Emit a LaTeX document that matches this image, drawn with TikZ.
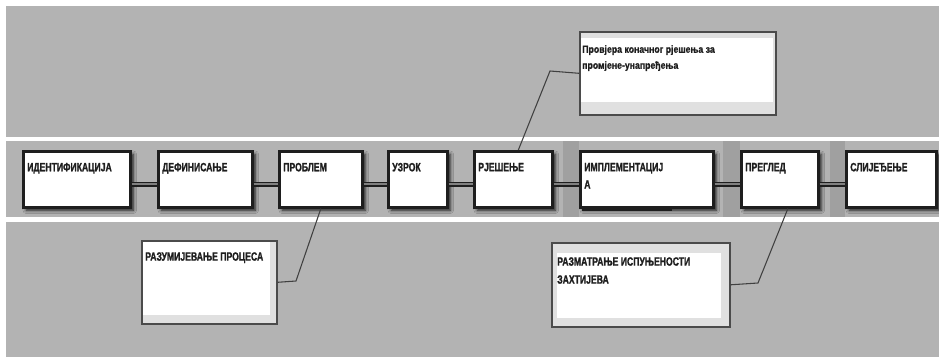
\documentclass[tikz,border=0pt]{standalone}
\usepackage{fontspec}
\usetikzlibrary{shadows.blur}
\newfontfamily\narrowsans[FakeStretch=0.72, BoldFeatures={FakeBold=1.2}]{Liberation Sans}
\newfontfamily\notesans[FakeStretch=0.84, BoldFeatures={FakeBold=0.8}]{Liberation Sans}
\definecolor{panel}{HTML}{B3B3B3}
\definecolor{panelshade}{HTML}{A0A0A0}
\definecolor{ink}{HTML}{1E1E1E}
\definecolor{rim}{HTML}{E0E0E0}

\tikzset{
  stepbox/.style={draw=ink, line width=2pt, fill=white, anchor=north west, inner sep=0pt,
    blur shadow={shadow xshift=2.2pt, shadow yshift=-2.2pt, shadow blur radius=2.5pt, shadow opacity=85}},
  steplabel/.style={anchor=north west, inner sep=0pt, align=left,
    font=\narrowsans\bfseries\fontsize{9}{13}\selectfont, text=ink},
  notebox/.style={draw=ink!80, line width=1.2pt, fill=rim, anchor=north west, inner sep=0pt},
  notelabel/.style={anchor=north west, inner sep=0pt, align=left,
    font=\notesans\bfseries\fontsize{7.8}{12}\selectfont, text=ink},
  capslabel/.style={anchor=north west, inner sep=0pt, align=left,
    font=\narrowsans\bfseries\fontsize{9}{13.5}\selectfont, text=ink},
  link/.style={draw=ink, double=gray, double distance=1.6pt, line width=1.3pt},
  leader/.style={draw=ink!85, line width=0.8pt},
}

% step box: name, x, y, width, height (px units), label
\newcommand\stepat[6]{%
  \node[stepbox, minimum width=#4*0.75pt, minimum height=#5*0.75pt] (#1) at (#2,#3) {};
  \node[steplabel] (#1-t) at ([xshift=3.75pt, yshift=-9.5pt]#1.north west) {#6};
}

\begin{document}
\begin{tikzpicture}[x=0.75pt, y=-0.75pt]
  \useasboundingbox (0,0) rectangle (939,357);
  % backdrop and band
  \fill[white] (0,0) rectangle (939,357);
  \fill[panel] (6,6) rectangle (939,357);
  \fill[panelshade] (563,141) rectangle (579,217);
  \fill[panelshade] (723,141) rectangle (740,217);
  \fill[panelshade] (830,141) rectangle (845,217);
  \fill[white] (6,137) rectangle (939,141);
  \fill[white] (6,217) rectangle (939,222);

  % process steps
  \stepat{s1}{22}{150}{107}{56}{ИДЕНТИФИКАЦИЈА}
  \stepat{s2}{157}{150}{94}{56}{ДЕФИНИСАЊЕ}
  \stepat{s3}{278}{150}{83}{56}{ПРОБЛЕМ}
  \stepat{s4}{387}{150}{59}{56}{УЗРОК}
  \stepat{s5}{473}{150}{78}{56}{РЈЕШЕЊЕ}
  \stepat{s6}{579}{150}{133}{56}{ИМПЛЕМЕНТАЦИЈ\\А}
  \fill[ink] (582,206) rectangle (672,210.5);
  \stepat{s7}{740}{150}{77}{56}{ПРЕГЛЕД}
  \stepat{s8}{845}{150}{90}{56}{СЛИЈЕЂЕЊЕ}

  % links between steps
  \foreach \a/\b in {s1/s2, s2/s3, s3/s4, s4/s5, s5/s6, s6/s7, s7/s8}
    \draw[link] ([yshift=-3.75pt]\a.east) -- ([yshift=-3.75pt]\b.west);

  % notes
  \node[notebox, minimum width=196*0.75pt, minimum height=83*0.75pt] (c1) at (579,31) {};
  \fill[white] (581,38) rectangle (773,102);
  \node[notelabel] (c1-t) at (582,45) {Провјера коначног рјешења за\\промјене-унапређења};

  \node[notebox, minimum width=135*0.75pt, minimum height=83*0.75pt] (c2) at (141,240) {};
  \fill[white] (143,242) rectangle (270,315);
  \node[capslabel] (c2-t) at (145,252) {РАЗУМИЈЕВАЊЕ ПРОЦЕСА};

  \node[notebox, minimum width=178*0.75pt, minimum height=84*0.75pt] (c3) at (551,242) {};
  \fill[white] (557,253) rectangle (721,318);
  \node[capslabel] (c3-t) at (557,257) {РАЗМАТРАЊЕ ИСПУЊЕНОСТИ\\ЗАХТИЈЕВА};

  % leaders from notes to steps
  \coordinate (k1) at (550,71);
  \draw[leader] (c1.west) -- (k1) -- ([xshift=3.75pt]s5.north);
  \coordinate (k2) at (296,281);
  \draw[leader] (c2.east) -- (k2) -- (s3.south);
  \coordinate (k3) at (758,283);
  \draw[leader] (c3.east) -- (k3) -- ([xshift=6pt]s7.south);
\end{tikzpicture}
\end{document}
